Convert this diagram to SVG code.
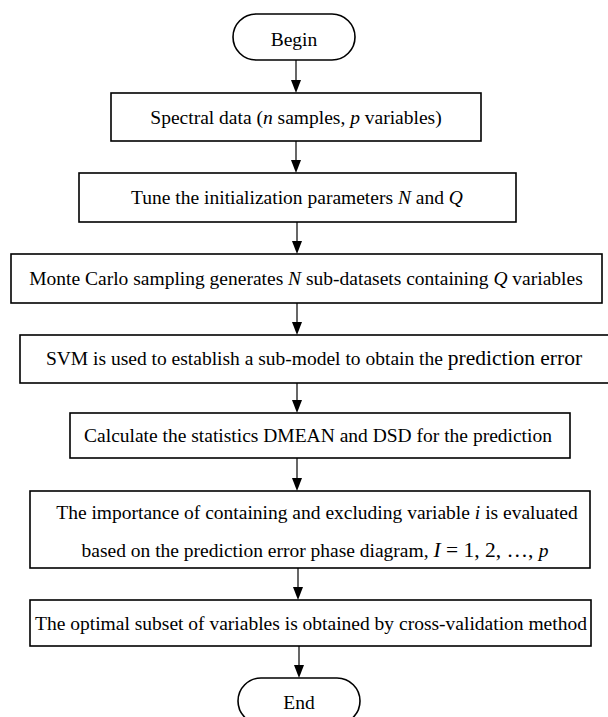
<svg xmlns="http://www.w3.org/2000/svg" width="608" height="717" viewBox="0 0 608 717">
<defs>
<style>
.box{fill:#fff;stroke:#000;stroke-width:1.6}
.t{font-family:"Liberation Serif","Times New Roman",serif;font-size:19.5px;fill:#000;text-anchor:middle}
.big{font-size:21.5px}
.c{stroke:#000;stroke-width:1.2;fill:none}
.ah{fill:#000}
</style>
</defs>
<rect width="608" height="717" fill="#fff"/>
<g id="connectors">
<path class="c" d="M296,60 V82"/>
<polygon class="ah" points="291,80 301,80 296,93"/>
<path class="c" d="M296,141 V162"/>
<polygon class="ah" points="291,160 301,160 296,173"/>
<path class="c" d="M297,222 V243"/>
<polygon class="ah" points="292,241 302,241 297,254"/>
<path class="c" d="M297,303 V324"/>
<polygon class="ah" points="292,322 302,322 297,335"/>
<path class="c" d="M297,383 V402"/>
<polygon class="ah" points="292,400 302,400 297,413"/>
<path class="c" d="M297,458 V480"/>
<polygon class="ah" points="292,478 302,478 297,491"/>
<path class="c" d="M298,568 V589"/>
<polygon class="ah" points="293,587 303,587 298,600"/>
<path class="c" d="M299,646 V667"/>
<polygon class="ah" points="294,665 304,665 299,678"/>
</g>
<g id="begin">
<rect class="box" x="233" y="14" width="122" height="46" rx="23"/>
<text class="t" x="294" y="46">Begin</text>
</g>
<g id="n1">
<rect class="box" x="111" y="93" width="370" height="48"/>
<text class="t" x="296" y="124">Spectral data (<tspan font-style="italic">n</tspan> samples, <tspan font-style="italic">p</tspan> variables)</text>
</g>
<g id="n2">
<rect class="box" x="79" y="173" width="437" height="49"/>
<text class="t" x="297" y="204">Tune the initialization parameters <tspan font-style="italic">N</tspan> and <tspan font-style="italic">Q</tspan></text>
</g>
<g id="n3">
<rect class="box" x="11" y="254" width="591" height="49"/>
<text class="t" x="306" y="285">Monte Carlo sampling generates <tspan font-style="italic">N</tspan> sub-datasets containing <tspan font-style="italic">Q</tspan> variables</text>
</g>
<g id="n4">
<rect class="box" x="20" y="335" width="600" height="48"/>
<text class="t" x="314" y="365">SVM is used to establish a sub-model to obtain the <tspan class="big">prediction error</tspan></text>
</g>
<g id="n5">
<rect class="box" x="70" y="413" width="500" height="45"/>
<text class="t" x="318" y="442">Calculate the statistics DMEAN and DSD for the prediction</text>
</g>
<g id="n6">
<rect class="box" x="30" y="491" width="560" height="77"/>
<text class="t" x="317" y="519">The importance of containing and excluding variable <tspan font-style="italic">i</tspan> is evaluated</text>
<text class="t" x="315" y="557">based on the prediction error phase diagram, <tspan class="big" font-style="italic">I</tspan><tspan class="big"> = 1, 2, …, </tspan><tspan font-style="italic">p</tspan></text>
</g>
<g id="n7">
<rect class="box" x="30" y="600" width="561" height="46"/>
<text class="t" x="311" y="630">The optimal subset of variables is obtained by cross-validation method</text>
</g>
<g id="end">
<rect class="box" x="238" y="678" width="122" height="46" rx="23"/>
<text class="t" x="299" y="709">End</text>
</g>
</svg>
